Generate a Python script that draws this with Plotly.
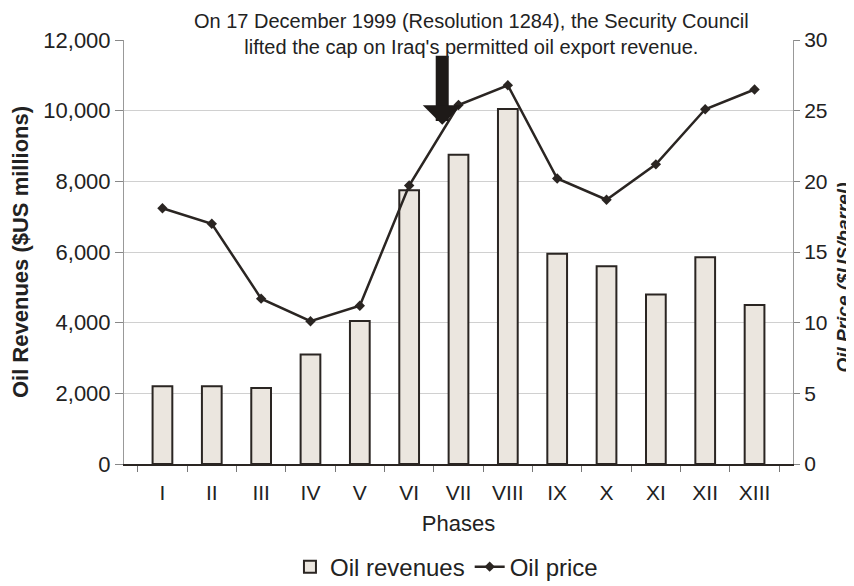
import plotly.graph_objects as go

phases = ["I", "II", "III", "IV", "V", "VI", "VII", "VIII", "IX", "X", "XI", "XII", "XIII"]
oil_revenues = [2200, 2200, 2150, 3100, 4050, 7750, 8750, 10050, 5950, 5600, 4800, 5850, 4500]
oil_price = [18.1, 17.0, 11.7, 10.1, 11.2, 19.7, 25.4, 26.8, 20.2, 18.7, 21.2, 25.1, 26.5]
left_ticks = [0, 2000, 4000, 6000, 8000, 10000, 12000]
right_ticks = [0, 5, 10, 15, 20, 25, 30]

FONT = "Liberation Sans, Arial, sans-serif"
INK = "#2a2522"

fig = go.Figure()
fig.add_trace(go.Bar(
    x=phases, y=oil_revenues, name="Oil revenues",
    marker=dict(color="#ebe6df", line=dict(color=INK, width=2)),
    width=0.40,
))
fig.add_trace(go.Scatter(
    x=phases, y=oil_price, name="Oil price", yaxis="y2",
    mode="lines+markers",
    line=dict(color=INK, width=2.5),
    marker=dict(symbol="diamond", size=8, color=INK),
))

fig.update_layout(
    width=854, height=586,
    paper_bgcolor="white", plot_bgcolor="white",
    margin=dict(l=116, r=69, t=32, b=130, autoexpand=False),
    font=dict(family=FONT, size=20, color="#222"),
    showlegend=True,
    legend=dict(orientation="h", x=0.482, xanchor="center", y=-0.19, yanchor="top",
                font=dict(size=24), tracegroupgap=0),
    xaxis=dict(
        title=dict(text="Phases", font=dict(size=22), standoff=12),
        tickson="boundaries", ticks="outside", ticklen=6, tickcolor="#777",
        ticklabelstandoff=9, automargin=False,
        showline=True, linecolor=INK, linewidth=2,
        tickfont=dict(size=21), showgrid=False,
    ),
    yaxis=dict(
        title=dict(text="<b>Oil Revenues ($US millions)</b>", font=dict(size=22), standoff=9),
        range=[0, 12000], tickvals=left_ticks, tickformat=",",
        ticks="outside", ticklen=8, tickcolor="#888", automargin=False,
        showline=True, linecolor="#999", linewidth=1,
        showgrid=True, gridcolor="#d0d0d0", gridwidth=1,
        zeroline=False, tickfont=dict(size=22),
    ),
    yaxis2=dict(
        overlaying="y", side="right",
        range=[0, 30], tickvals=right_ticks, automargin=False,
        ticks="outside", ticklen=6, tickcolor="#888",
        showline=True, linecolor="#999", linewidth=1,
        showgrid=False, zeroline=False, tickfont=dict(size=21),
    ),
)

fig.add_annotation(
    x=1.075, y=0.44, xref="paper", yref="paper", xanchor="center", yanchor="middle",
    text="<b><i>Oil Price ($US/barrel)</i></b>", textangle=-90,
    showarrow=False, font=dict(size=19, color="#222"),
)
fig.add_annotation(
    x=5.67, y=24.0, xref="x", yref="y2",
    ax=5.67, ay=29.0, axref="x", ayref="y2",
    showarrow=True, arrowhead=1, arrowsize=0.5, arrowwidth=13, arrowcolor="#1e1a18",
    text="",
)
fig.add_annotation(
    x=0.52, y=1.075, xref="paper", yref="paper", xanchor="center", yanchor="top",
    text="On 17 December 1999 (Resolution 1284), the Security Council<br>lifted the cap on Iraq's permitted oil export revenue.",
    showarrow=False, font=dict(size=20, color="#222"), align="center",
)

fig.write_html("out.html")
